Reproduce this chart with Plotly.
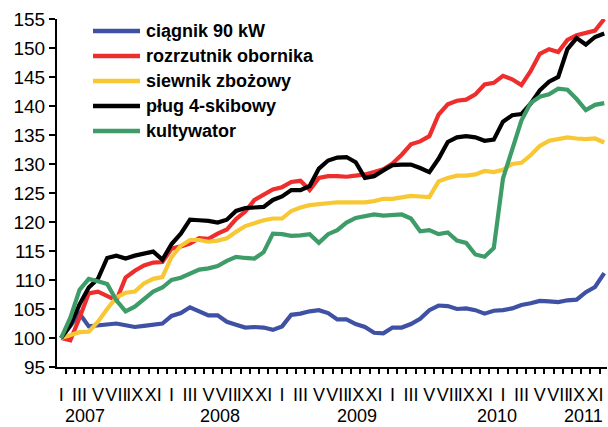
import plotly.graph_objects as go

# Monthly price indices of farm machinery, January 2007 = 100
months = list(range(60))  # Jan 2007 .. Dec 2011
month_labels = ["I", "", "III", "", "V", "", "VII", "", "IX", "", "XI", ""] * 5
years = ["2007", "2008", "2009", "2010", "2011"]

ciagnik = [100.0, 102.0, 104.2, 102.0, 102.2, 102.3, 102.5, 102.2, 101.9, 102.1,
           102.3, 102.5, 103.8, 104.3, 105.3, 104.5, 103.9, 103.9, 102.8, 102.3,
           101.8, 101.9, 101.8, 101.4, 102.0, 104.0, 104.2, 104.6, 104.8, 104.3,
           103.2, 103.2, 102.4, 101.9, 100.9, 100.8, 101.8, 101.8, 102.4, 103.3,
           104.8, 105.6, 105.5, 105.0, 105.1, 104.8, 104.2, 104.7, 104.8, 105.1,
           105.7, 106.0, 106.4, 106.3, 106.2, 106.5, 106.6, 107.9, 108.8, 111.2]

rozrzutnik = [100.0, 99.6, 103.5, 107.7, 108.0, 107.2, 106.5, 110.4, 111.6, 112.5,
              113.0, 113.1, 115.4, 115.8, 116.3, 117.2, 117.1, 118.0, 118.7, 120.5,
              121.8, 123.8, 124.8, 125.6, 126.0, 126.9, 127.1, 125.5, 127.6, 127.9,
              127.9, 127.8, 128.0, 128.2, 128.6, 129.1, 130.1, 131.6, 133.4, 133.9,
              134.8, 138.5, 140.3, 140.9, 141.1, 142.0, 143.7, 144.0, 145.2, 144.6,
              143.6, 146.0, 149.0, 149.8, 149.3, 151.4, 152.2, 152.6, 153.0, 155.0]

siewnik = [100.0, 100.5, 101.0, 101.1, 102.8, 105.0, 107.0, 107.8, 108.0, 109.4,
           110.2, 110.5, 114.0, 115.9, 116.9, 116.9, 116.6, 116.8, 117.2, 118.3,
           119.3, 119.8, 120.3, 120.6, 120.6, 121.9, 122.5, 122.9, 123.1, 123.3,
           123.4, 123.4, 123.4, 123.4, 123.6, 124.0, 124.0, 124.3, 124.5, 124.4,
           124.3, 127.0, 127.6, 128.0, 128.0, 128.2, 128.8, 128.6, 129.0, 130.0,
           130.2, 131.5, 133.1, 134.0, 134.3, 134.6, 134.4, 134.3, 134.4, 133.7]

plug = [100.0, 102.2, 105.8, 108.7, 110.2, 113.8, 114.2, 113.7, 114.2, 114.6,
        114.9, 113.5, 116.2, 118.0, 120.4, 120.3, 120.2, 119.9, 120.4, 121.9,
        122.4, 122.5, 122.6, 123.8, 124.4, 125.5, 125.5, 126.2, 129.2, 130.6,
        131.1, 131.2, 130.3, 127.6, 127.9, 128.9, 129.8, 129.9, 129.9, 129.3,
        128.6, 130.9, 133.8, 134.6, 134.8, 134.6, 134.0, 134.2, 137.3, 138.4,
        138.6, 140.4, 142.7, 144.2, 145.0, 149.8, 151.7, 150.6, 151.9, 152.5]

kultywator = [100.0, 103.5, 108.3, 110.2, 109.8, 109.3, 106.5, 104.6, 105.4, 106.6,
              108.0, 108.7, 110.0, 110.4, 111.1, 111.8, 112.0, 112.4, 113.3, 114.0,
              113.8, 113.7, 114.8, 118.0, 117.9, 117.6, 117.7, 117.9, 116.4, 117.9,
              118.6, 119.9, 120.7, 121.0, 121.3, 121.1, 121.2, 121.3, 120.6, 118.4,
              118.6, 117.9, 118.2, 116.8, 116.4, 114.4, 114.0, 115.5, 127.5, 132.8,
              137.5, 140.5, 141.6, 142.0, 143.0, 142.8, 141.2, 139.3, 140.2, 140.5]

series = [
    ("ciągnik 90 kW", ciagnik, "#3f51a5"),
    ("rozrzutnik obornika", rozrzutnik, "#ee2d2d"),
    ("siewnik zbożowy", siewnik, "#f8c734"),
    ("pług 4-skibowy", plug, "#000000"),
    ("kultywator", kultywator, "#3d9c68"),
]

FONT = "Liberation Sans, Arial, sans-serif"
W, H = 608, 427
M_L, M_R, M_T, M_B = 57, 1, 19, 60
PLOT_W = W - M_L - M_R
PLOT_H = H - M_T - M_B


def paper_x(px):
    return (px - M_L) / PLOT_W


def paper_y(py):
    return (H - M_B - py) / PLOT_H


fig = go.Figure()
for name, values, color in series:
    fig.add_trace(go.Scatter(
        x=months, y=values, name=name, mode="lines",
        line=dict(color=color, width=4.2),
    ))

# legend: coloured line sample followed by bold caption, one row per series
row_top, row_step = 31, 25
for k, (name, _, color) in enumerate(series):
    ry = paper_y(row_top + k * row_step)
    fig.add_shape(
        type="line", xref="paper", yref="paper",
        x0=paper_x(93), x1=paper_x(140), y0=ry, y1=ry,
        line=dict(color=color, width=4.5),
    )
    fig.add_annotation(
        x=paper_x(144), y=ry, xref="paper", yref="paper",
        xanchor="left", yanchor="middle", showarrow=False, text=name,
        font=dict(family=FONT, size=18, color="black", weight="bold"),
    )

# year captions under the month labels
year_label_x = [2.6, 17.3, 32.1, 47.4, 56.8]
for yx, yr in zip(year_label_x, years):
    fig.add_annotation(
        x=yx, xref="x", y=0, yref="paper", text=yr, showarrow=False,
        yanchor="middle", yshift=-49,
        font=dict(family=FONT, size=18, color="black"),
    )

fig.update_layout(
    width=W, height=H,
    margin=dict(l=M_L, r=M_R, t=M_T, b=M_B),
    paper_bgcolor="white", plot_bgcolor="white",
    font=dict(family=FONT, color="black"),
    showlegend=False,
    xaxis=dict(
        range=[-0.45, 59.3],
        tickmode="array", tickvals=months, ticktext=month_labels,
        tickangle=0, ticks="outside", ticklen=0,
        ticklabelstandoff=10,
        tickfont=dict(family=FONT, size=18, color="black"),
        showline=True, linecolor="black", linewidth=2,
        showgrid=False, zeroline=False,
        minor=dict(tick0=-0.5, dtick=1, ticks="outside", ticklen=5,
                   tickwidth=1.5, tickcolor="black", showgrid=False),
    ),
    yaxis=dict(
        range=[95, 155], dtick=5, tick0=95,
        ticks="outside", ticklen=6, tickwidth=1.5, tickcolor="black",
        tickfont=dict(family=FONT, size=19, color="black"),
        showline=True, linecolor="black", linewidth=2,
        showgrid=False, zeroline=False,
    ),
)

fig.write_html("out.html")
